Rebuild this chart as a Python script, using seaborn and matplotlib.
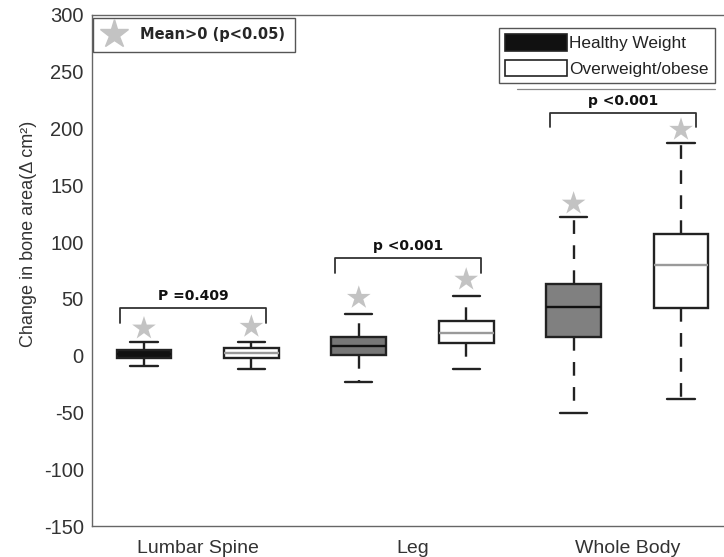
import numpy as np
import pandas as pd
import matplotlib
matplotlib.use("Agg")
import matplotlib.pyplot as plt
import seaborn as sns
from matplotlib.lines import Line2D
from matplotlib.patches import Patch

# ---------------- data ----------------
regions = ["Lumbar Spine", "Leg", "Whole Body"]
groups = ["Healthy Weight", "Overweight/obese"]

# five-number summaries: [lower whisker, Q1, median, Q3, upper whisker]
lumbar_healthy = [-8.8, -2.0, 1.5, 5.0, 12.3]
lumbar_over = [-12.0, -2.3, 2.0, 6.5, 12.3]
leg_healthy = [-22.9, 0.6, 8.5, 16.7, 36.4]
leg_over = [-11.7, 11.5, 20.3, 30.8, 52.6]
wb_healthy = [-50.2, 16.2, 43.2, 63.1, 122.4]
wb_over = [-38.4, 41.7, 79.9, 107.2, 187.6]

# grey stars: mean > 0 (p<0.05) markers
star_values = [24, 25.5, 51, 67, 134, 199]

# comparison brackets
p_labels = ["P =0.409", "p <0.001", "p <0.001"]
bracket_y = [42, 86, 214]

y_ticks = [-150, -100, -50, 0, 50, 100, 150, 200, 250, 300]

# ---------------- layout / style ----------------
box_pos = [1, 2, 3, 4, 5, 6]
tick_pos = [1.5, 3.5, 5.5]
box_fill = ["#111111", "white", "#777777", "white", "#808080", "white"]
median_col = ["#111111", "#9a9a9a", "#111111", "#9a9a9a", "#111111", "#9a9a9a"]

sns.set_style("white")
plt.rcParams["font.family"] = ["Liberation Sans", "DejaVu Sans"]
plt.rcParams["axes.unicode_minus"] = False

fig = plt.figure(figsize=(7.24, 5.57), dpi=100)
W, H = 724, 557
ax = fig.add_axes([92 / W, 1 - 526 / H, (733 - 92) / W, (526 - 15) / H])

all_boxes = [lumbar_healthy, lumbar_over, leg_healthy, leg_over, wb_healthy, wb_over]
for pos, vals, fc, mc in zip(box_pos, all_boxes, box_fill, median_col):
    df = pd.DataFrame({"x": [pos] * len(vals), "y": vals})
    sns.boxplot(
        data=df, x="x", y="y", orient="x", native_scale=True, ax=ax,
        width=0.51, whis=(0, 100), showfliers=False, saturation=1,
        color=fc, linecolor="#222222", linewidth=1.7,
        medianprops=dict(color=mc, linewidth=1.7),
        whiskerprops=dict(linestyle=(0, (5.8, 4.8)), color="#222222", linewidth=1.7),
        capprops=dict(color="#222222", linewidth=1.7),
    )

# stars
sns.scatterplot(x=box_pos, y=star_values, marker="*", s=320, color="#c3c3c3",
                edgecolor="none", ax=ax, legend=False, zorder=5)

# brackets
for i, (lab, by) in enumerate(zip(p_labels, bracket_y)):
    x0 = box_pos[2 * i] - 0.22
    x1 = box_pos[2 * i + 1] + 0.14
    ax.plot([x0, x0, x1, x1], [by - 13, by, by, by - 13], color="#333333", lw=1.3)
    ax.text((x0 + x1) / 2, by + 4, lab, ha="center", va="bottom",
            fontsize=10, fontweight="bold", family="DejaVu Sans", color="#111111")

ax.set_xlim(0.516, 6.484)
ax.set_ylim(-150, 300)
ax.set_yticks(y_ticks)
ax.set_xticks(tick_pos)
ax.set_xticklabels(regions)
ax.set_xlabel("")
ax.set_ylabel("Change in bone area(Δ cm²)", fontsize=13, color="#333333")
ax.yaxis.set_label_coords((37 - 92) / 641, (526 - 234) / 511)
ax.tick_params(axis="both", direction="in", length=5, width=1, colors="#555555",
               labelcolor="#333333", labelsize=14.5)
ax.tick_params(axis="y", pad=6)
ax.tick_params(axis="x", pad=10, labelsize=14)
for side in ["left", "bottom", "top"]:
    ax.spines[side].set_visible(True)
    ax.spines[side].set_color("#666666")
    ax.spines[side].set_linewidth(1.0)
ax.spines["right"].set_visible(False)

# legends
star_handle = Line2D([], [], marker="*", color="#c3c3c3", markersize=21, linestyle="none")
leg1 = ax.legend([star_handle], ["Mean>0 (p<0.05)"], loc="upper left",
                 bbox_to_anchor=(1 / 641, 1 - 3 / 511), borderaxespad=0, frameon=True,
                 fancybox=False, framealpha=1, edgecolor="#555555",
                 prop=dict(family="DejaVu Sans", weight="bold", size=10.5),
                 handlelength=1.6, handletextpad=1.0, borderpad=0.65)
leg1.get_frame().set_linewidth(1.0)
ax.add_artist(leg1)

grp_handles = [Patch(facecolor="#111111", edgecolor="#222222", linewidth=1.2),
               Patch(facecolor="white", edgecolor="#222222", linewidth=1.2)]
leg2 = ax.legend(grp_handles, groups, loc="upper right",
                 bbox_to_anchor=((715 - 92) / 641, 1 - 13 / 511), borderaxespad=0, frameon=True,
                 fancybox=False, framealpha=1, edgecolor="#555555",
                 prop=dict(family="Liberation Sans", size=12.4),
                 handlelength=3.6, handleheight=1.1, handletextpad=0.15,
                 labelspacing=0.5, borderpad=0.35, labelcolor="#222222")
leg2.get_frame().set_linewidth(1.0)

fig.add_artist(Line2D([517 / W, 715 / W], [1 - 89 / H, 1 - 89 / H], color="#888888", lw=0.9))

fig.savefig("out.png", dpi=100, facecolor="white")
